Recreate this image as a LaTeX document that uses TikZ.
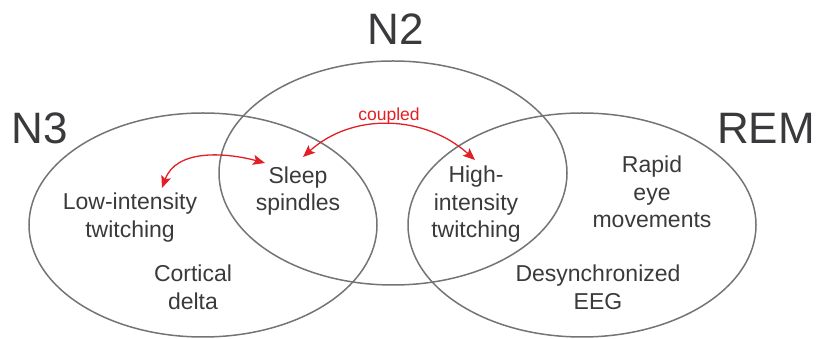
\documentclass[tikz,border=0pt]{standalone}
\usepackage{fontspec}
\setmainfont{Liberation Sans}
\usetikzlibrary{arrows.meta}
\definecolor{ringgray}{RGB}{115,116,119}
\definecolor{textgray}{RGB}{58,58,60}
\definecolor{coupred}{RGB}{227,30,36}
\tikzset{
  ring/.style={draw=ringgray,line width=1.5pt},
  stage/.style={text=textgray,font=\fontsize{44}{44}\selectfont,inner sep=0pt,anchor=base},
  feature/.style={text=textgray,font=\fontsize{23}{27.5}\selectfont,align=center,inner sep=0pt,anchor=base},
  couple/.style={<->,>={Stealth[length=12pt,width=10pt,inset=2.5pt]},draw=coupred,line width=1.3pt}
}

\begin{document}
\begin{tikzpicture}[x=1pt,y=1pt]
  \useasboundingbox (0,0) rectangle (818,339);

  % 三个睡眠阶段的椭圆
  \draw[ring] (203,114) ellipse [x radius=174, y radius=112];
  \draw[ring] (393,166) ellipse [x radius=174, y radius=112];
  \draw[ring] (582,114) ellipse [x radius=174, y radius=112];

  % 阶段名称
  \node[stage] (n3) at (40,195) {N3};
  \node[stage] (n2) at (396,294) {N2};
  \node[stage] (rem) at (766,195) {REM};

  % 各区域中的特征 (base 为最后一行的基线)
  \node[feature] (low) at (130,101.5) {Low-intensity\\twitching};
  \node[feature] (sleep) at (298,128.2) {Sleep\\spindles};
  \node[feature] (high) at (476,101) {High-\\intensity\\twitching};
  \node[feature] (rapid) at (652,111.3) {Rapid\\eye\\movements};
  \node[feature] (cortical) at (193,29.8) {Cortical\\delta};
  \node[feature] (desync) at (598,29.8) {Desynchronized\\EEG};

  % 耦合关系的红色箭头
  \draw[couple] ([shift={(32,49.5)}]low.base)
        to[out=70,in=165] ([shift={(-33,47.8)}]sleep.base);
  \draw[couple] ([shift={(5,53.8)}]sleep.base)
        to[out=42,in=138]
        node[above,inner sep=0pt,text=coupred,font=\fontsize{17.5}{17.5}\selectfont] (cpl) {coupled}
        ([shift={(-1,78)}]high.base);
\end{tikzpicture}
\end{document}
